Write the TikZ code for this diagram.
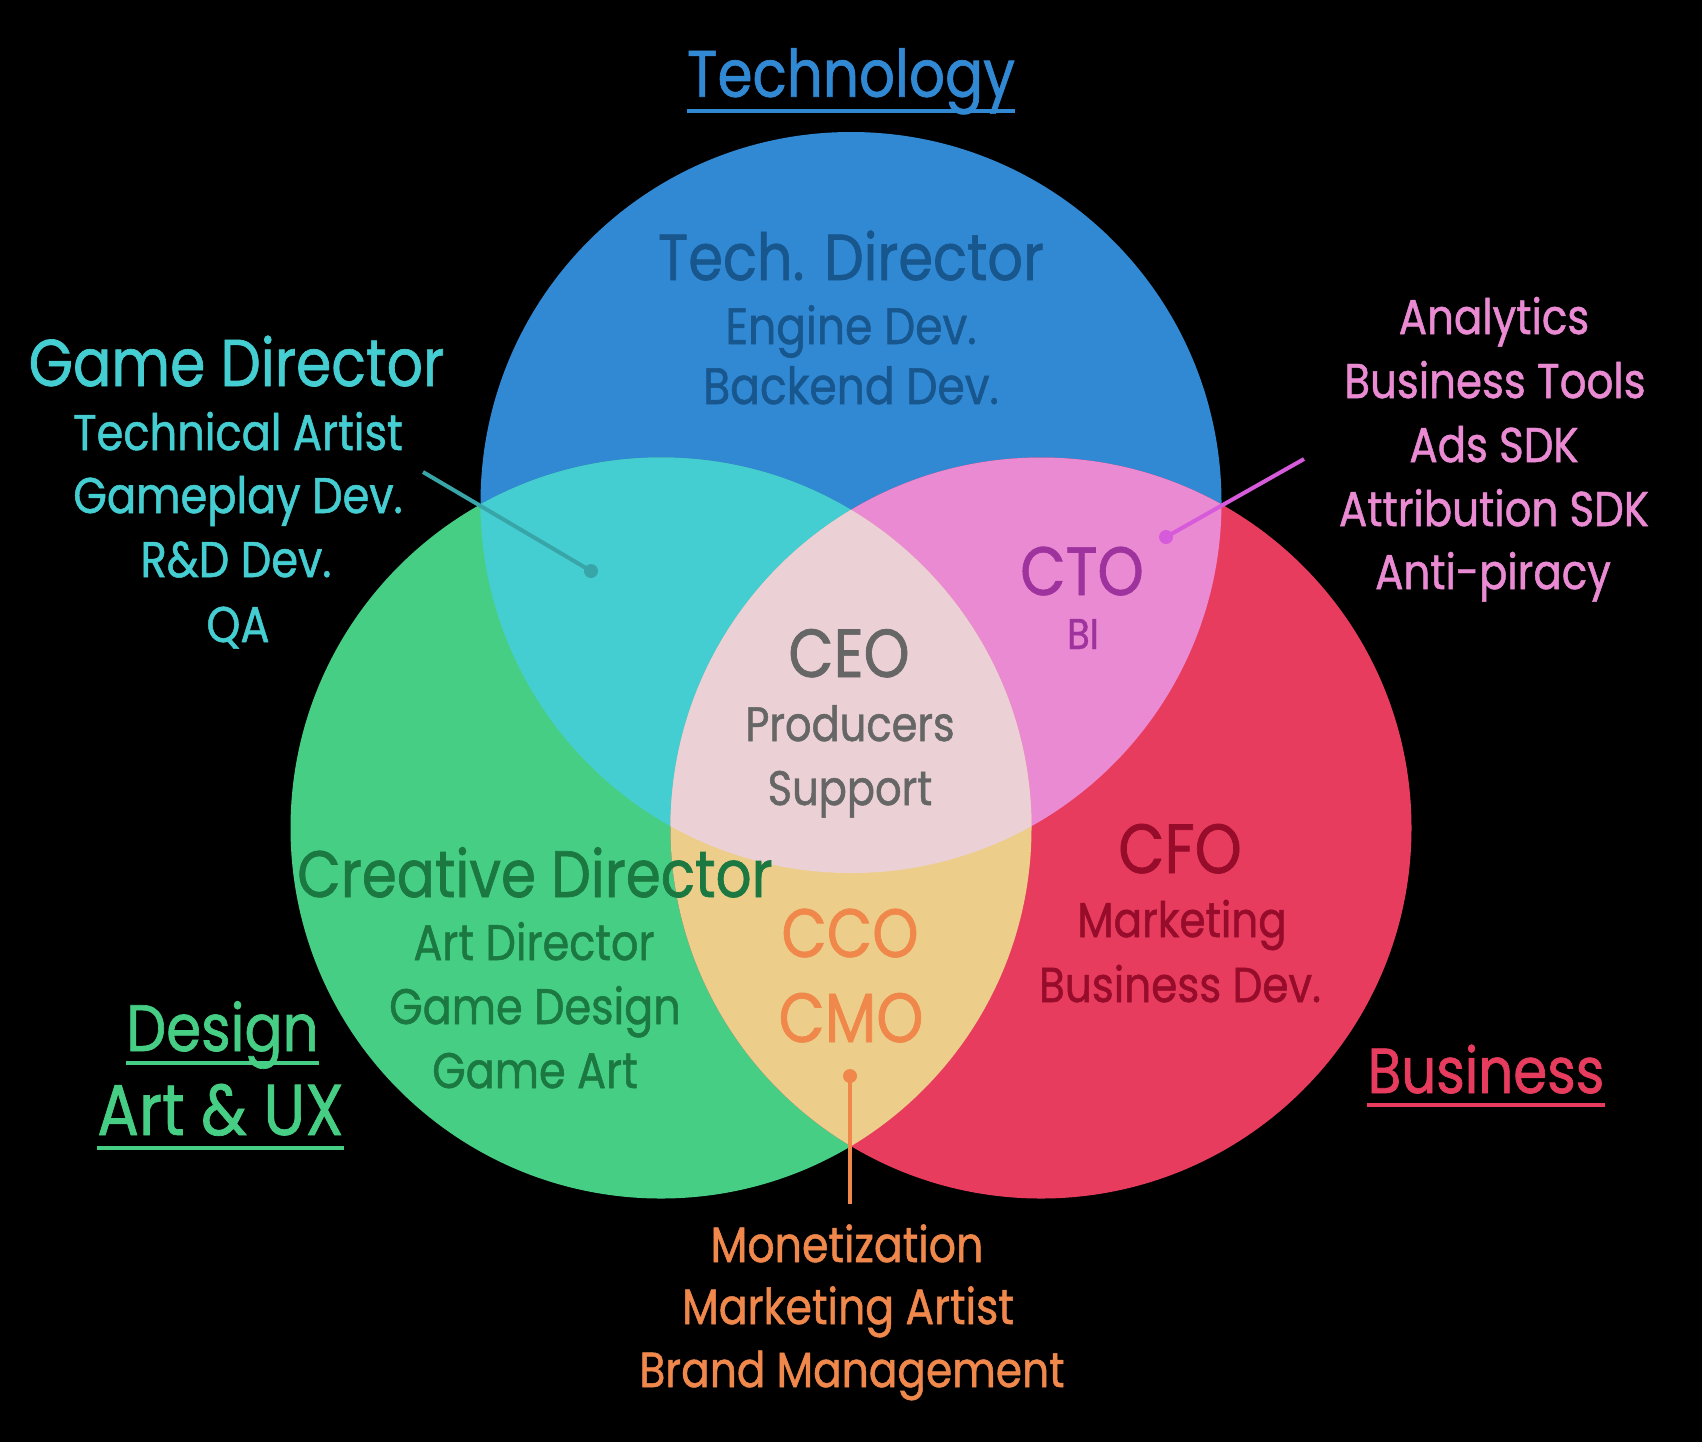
\documentclass[tikz,border=0pt]{standalone}
\usepackage{fontspec}
\setmainfont{Poppins}[FakeStretch=0.86,FakeBold=1.0]
\definecolor{cblue}{RGB}{49,137,212}
\definecolor{cgreen}{RGB}{71,206,133}
\definecolor{cred}{RGB}{232,60,94}
\definecolor{ccyan}{RGB}{69,206,210}
\definecolor{cpink}{RGB}{234,138,211}
\definecolor{cyell}{RGB}{236,206,138}
\definecolor{ccent}{RGB}{235,209,213}
\definecolor{tblue}{RGB}{24,86,142}
\definecolor{tgreen}{RGB}{26,120,64}
\definecolor{tpurple}{RGB}{158,51,158}
\definecolor{tgray}{RGB}{102,102,102}
\definecolor{torange}{RGB}{240,136,76}
\definecolor{tdred}{RGB}{150,12,42}
\definecolor{lteal}{RGB}{56,166,168}
\definecolor{lpink}{RGB}{214,91,219}
\newcommand{\fsz}[1]{\fontsize{#1}{#1}\selectfont}
\begin{document}
\begin{tikzpicture}[x=0.5pt,y=-0.5pt,
  txt/.style={anchor=base,inner sep=0pt},
  uline/.style={line width=2pt},
  lead/.style={line width=2pt},
  dotm/.style={radius=7}]
\fill[black] (0,0) rectangle (1702,1442);
\useasboundingbox (0,0) rectangle (1702,1442);
\def\R{370.5}
\coordinate (cT) at (851,502.5);
\coordinate (cD) at (661,828);
\coordinate (cB) at (1041,828);
% circles
\fill[cblue] (cT) circle[radius=\R];
\fill[cgreen] (cD) circle[radius=\R];
\fill[cred] (cB) circle[radius=\R];
\begin{scope}\clip (cT) circle[radius=\R]; \fill[ccyan] (cD) circle[radius=\R];\end{scope}
\begin{scope}\clip (cT) circle[radius=\R]; \fill[cpink] (cB) circle[radius=\R];\end{scope}
\begin{scope}\clip (cD) circle[radius=\R]; \fill[cyell] (cB) circle[radius=\R];\end{scope}
\begin{scope}\clip (cT) circle[radius=\R]; \clip (cD) circle[radius=\R]; \fill[ccent] (cB) circle[radius=\R];\end{scope}
% Technology
\node[txt,font=\fsz{32.8},text=cblue] (tech) at (851,96.7) {Technology};
\draw[uline,cblue] ([yshift=-7pt]tech.base west) -- ([yshift=-7pt]tech.base east);
\node[txt,font=\fsz{32.5},text=tblue] (td) at (851,280) {Tech. Director};
\node[txt,font=\fsz{25.6},text=tblue] (ed) at (851,344) {Engine Dev.};
\node[txt,font=\fsz{25.6},text=tblue] (bd) at (851,404) {Backend Dev.};
% Game director
\node[txt,font=\fsz{33.1},text=ccyan] (gd) at (236.5,386) {Game Director};
\node[txt,font=\fsz{25.1},text=ccyan] (ta) at (238,450) {Technical Artist};
\node[txt,font=\fsz{25.1},text=ccyan] (gp) at (238,513) {Gameplay Dev.};
\node[txt,font=\fsz{25.1},text=ccyan] (rd) at (236,577) {R\&D Dev.};
\node[txt,font=\fsz{25.1},text=ccyan] (qa) at (238,642) {QA};
\coordinate (gdA) at (423,472);
\coordinate (gdB) at (591,571);
\draw[lead,lteal] (gdA) -- (gdB);
\fill[lteal] (gdB) circle[dotm];
% Analytics
\node[txt,font=\fsz{24.4},text=cpink] (an) at (1494,334) {Analytics};
\node[txt,font=\fsz{24.4},text=cpink] (bt) at (1495,398) {Business Tools};
\node[txt,font=\fsz{24.4},text=cpink] (ads) at (1494,462) {Ads SDK};
\node[txt,font=\fsz{24.4},text=cpink] (att) at (1494,526) {Attribution SDK};
\node[txt,font=\fsz{24.4},text=cpink] (ap) at (1493,589) {Anti-piracy};
\coordinate (anA) at (1304,459);
\coordinate (anB) at (1166,537);
\draw[lead,lpink] (anA) -- (anB);
\fill[lpink] (anB) circle[dotm];
% CTO
\node[txt,font=\fsz{34.2},text=tpurple] (cto) at (1082,595) {CTO};
\node[txt,font=\fsz{21.5},text=tpurple] (bi) at (1083,649) {BI};
% CEO
\node[txt,font=\fsz{34},text=tgray] (ceo) at (849,677) {CEO};
\node[txt,font=\fsz{24.2},text=tgray] (prod) at (850,741) {Producers};
\node[txt,font=\fsz{24.2},text=tgray] (sup) at (850,805) {Support};
% Creative director
\node[txt,font=\fsz{32.8},text=tgreen] (cd) at (535,897) {Creative Director};
\node[txt,font=\fsz{25},text=tgreen] (ad) at (534,960) {Art Director};
\node[txt,font=\fsz{25},text=tgreen] (gdes) at (535,1024) {Game Design};
\node[txt,font=\fsz{25},text=tgreen] (gart) at (535,1088) {Game Art};
% CCO CMO
\node[txt,font=\fsz{34.2},text=torange] (cco) at (850,957) {CCO};
\node[txt,font=\fsz{34.8},text=torange] (cmo) at (851,1042) {CMO};
% CFO
\node[txt,font=\fsz{34.8},text=tdred] (cfo) at (1180,873) {CFO};
\node[txt,font=\fsz{24.5},text=tdred] (mk) at (1182,937) {Marketing};
\node[txt,font=\fsz{24.5},text=tdred] (bdev) at (1180,1002) {Business Dev.};
% Design
\node[txt,font=\fsz{32.8},text=cgreen] (des) at (222.5,1051) {Design};
\draw[uline,cgreen] ([yshift=-5.8pt]des.base west) -- ([yshift=-5.8pt]des.base east);
\node[txt,font=\fsz{36},text=cgreen] (aux) at (220.5,1135) {Art \& UX};
\draw[uline,cgreen] ([yshift=-6.3pt]aux.base west) -- ([yshift=-6.3pt]aux.base east);
% Business
\node[txt,font=\fsz{31.8},text=cred] (bus) at (1486,1093) {Business};
\draw[uline,cred] ([yshift=-6pt]bus.base west) -- ([yshift=-6pt]bus.base east);
% Monetization
\node[txt,font=\fsz{24.8},text=torange] (mon) at (847,1262) {Monetization};
\node[txt,font=\fsz{24.8},text=torange] (ma) at (848,1324) {Marketing Artist};
\node[txt,font=\fsz{24.6},text=torange] (bm) at (852,1387) {Brand Management};
\coordinate (moA) at (850,1076);
\coordinate (moB) at (850,1204);
\draw[lead,torange] (moA) -- (moB);
\fill[torange] (moA) circle[dotm];
\end{tikzpicture}
\end{document}
